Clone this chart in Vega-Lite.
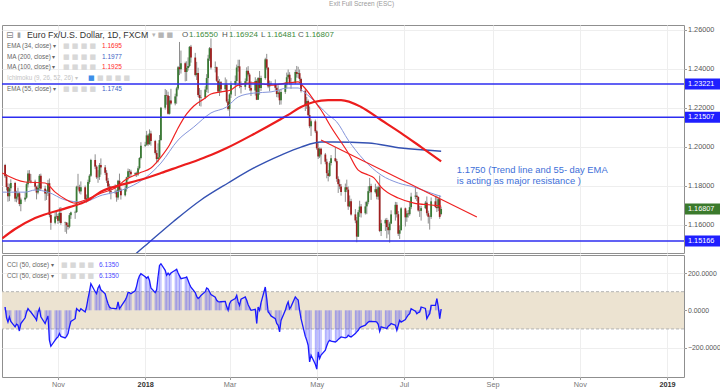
{
  "$schema": "https://vega.github.io/schema/vega-lite/v6.json",
  "background": "#ffffff",
  "padding": {"left": 0, "top": 1, "right": 0, "bottom": 2},
  "title": {"text": "Exit Full Screen (ESC)", "fontSize": 6.5, "fontWeight": "normal", "color": "#9a9a9a", "anchor": "middle", "frame": "bounds", "offset": 17},
  "config": {
    "font": "Liberation Sans",
    "view": {"stroke": "#8f8f8f", "strokeWidth": 1},
    "axis": {"labelFontSize": 7.3, "labelColor": "#555555", "gridColor": "#eeeeee", "gridWidth": 1, "domain": false, "tickColor": "#9a9a9a", "tickSize": 2.5, "labelPadding": 1}
  },
  "datasets": {
    "bars": [
      {"d":"2017-09-25","o":1.1906,"h":1.1912,"l":1.1840,"c":1.1848,"cci":18},
      {"d":"2017-09-26","o":1.1848,"h":1.1860,"l":1.1776,"c":1.1793,"cci":-40},
      {"d":"2017-09-27","o":1.1793,"h":1.1812,"l":1.1718,"c":1.1746,"cci":-63},
      {"d":"2017-09-28","o":1.1746,"h":1.1810,"l":1.1721,"c":1.1787,"cci":-36},
      {"d":"2017-09-29","o":1.1787,"h":1.1833,"l":1.1773,"c":1.1814,"cci":-60},
      {"d":"2017-10-02","o":1.1814,"h":1.1820,"l":1.1718,"c":1.1734,"cci":-89},
      {"d":"2017-10-03","o":1.1734,"h":1.1774,"l":1.1715,"c":1.1744,"cci":-75},
      {"d":"2017-10-04","o":1.1744,"h":1.1790,"l":1.1725,"c":1.1761,"cci":-80},
      {"d":"2017-10-05","o":1.1761,"h":1.1768,"l":1.1695,"c":1.1706,"cci":-111},
      {"d":"2017-10-06","o":1.1706,"h":1.1739,"l":1.1669,"c":1.1729,"cci":-71},
      {"d":"2017-10-09","o":1.1729,"h":1.1765,"l":1.1718,"c":1.1739,"cci":-40},
      {"d":"2017-10-10","o":1.1739,"h":1.1818,"l":1.1733,"c":1.1808,"cci":-10},
      {"d":"2017-10-11","o":1.1808,"h":1.1879,"l":1.1791,"c":1.1862,"cci":9},
      {"d":"2017-10-12","o":1.1862,"h":1.1880,"l":1.1816,"c":1.1826,"cci":-2},
      {"d":"2017-10-13","o":1.1826,"h":1.1860,"l":1.1812,"c":1.1821,"cci":-9},
      {"d":"2017-10-16","o":1.1821,"h":1.1831,"l":1.1777,"c":1.1795,"cci":-40},
      {"d":"2017-10-17","o":1.1795,"h":1.1800,"l":1.1730,"c":1.1765,"cci":-54},
      {"d":"2017-10-18","o":1.1765,"h":1.1805,"l":1.1756,"c":1.1788,"cci":-10},
      {"d":"2017-10-19","o":1.1788,"h":1.1860,"l":1.1777,"c":1.1851,"cci":9},
      {"d":"2017-10-20","o":1.1851,"h":1.1862,"l":1.1775,"c":1.1785,"cci":-35},
      {"d":"2017-10-23","o":1.1785,"h":1.1800,"l":1.1723,"c":1.1760,"cci":-71},
      {"d":"2017-10-24","o":1.1760,"h":1.1780,"l":1.1727,"c":1.1762,"cci":-50},
      {"d":"2017-10-25","o":1.1762,"h":1.1830,"l":1.1747,"c":1.1813,"cci":-30},
      {"d":"2017-10-26","o":1.1813,"h":1.1837,"l":1.1638,"c":1.1650,"cci":-160},
      {"d":"2017-10-27","o":1.1650,"h":1.1660,"l":1.1574,"c":1.1610,"cci":-193},
      {"d":"2017-10-30","o":1.1610,"h":1.1668,"l":1.1602,"c":1.1642,"cci":-160},
      {"d":"2017-10-31","o":1.1642,"h":1.1670,"l":1.1630,"c":1.1645,"cci":-150},
      {"d":"2017-11-01","o":1.1645,"h":1.1655,"l":1.1604,"c":1.1620,"cci":-143},
      {"d":"2017-11-02","o":1.1620,"h":1.1688,"l":1.1610,"c":1.1660,"cci":-125},
      {"d":"2017-11-03","o":1.1660,"h":1.1691,"l":1.1600,"c":1.1609,"cci":-140},
      {"d":"2017-11-06","o":1.1609,"h":1.1616,"l":1.1563,"c":1.1611,"cci":-148},
      {"d":"2017-11-07","o":1.1611,"h":1.1614,"l":1.1554,"c":1.1597,"cci":-140},
      {"d":"2017-11-08","o":1.1597,"h":1.1610,"l":1.1575,"c":1.1590,"cci":-125},
      {"d":"2017-11-09","o":1.1590,"h":1.1660,"l":1.1582,"c":1.1649,"cci":-89},
      {"d":"2017-11-10","o":1.1649,"h":1.1667,"l":1.1630,"c":1.1663,"cci":-60},
      {"d":"2017-11-13","o":1.1663,"h":1.1672,"l":1.1630,"c":1.1665,"cci":-45},
      {"d":"2017-11-14","o":1.1665,"h":1.1800,"l":1.1660,"c":1.1795,"cci":9},
      {"d":"2017-11-15","o":1.1795,"h":1.1861,"l":1.1780,"c":1.1793,"cci":2},
      {"d":"2017-11-16","o":1.1793,"h":1.1805,"l":1.1760,"c":1.1771,"cci":-5},
      {"d":"2017-11-17","o":1.1771,"h":1.1822,"l":1.1755,"c":1.1792,"cci":9},
      {"d":"2017-11-20","o":1.1792,"h":1.1801,"l":1.1722,"c":1.1732,"cci":-9},
      {"d":"2017-11-21","o":1.1732,"h":1.1755,"l":1.1713,"c":1.1736,"cci":20},
      {"d":"2017-11-22","o":1.1736,"h":1.1831,"l":1.1728,"c":1.1819,"cci":63},
      {"d":"2017-11-23","o":1.1819,"h":1.1859,"l":1.1810,"c":1.1851,"cci":100},
      {"d":"2017-11-24","o":1.1851,"h":1.1938,"l":1.1845,"c":1.1932,"cci":143},
      {"d":"2017-11-27","o":1.1932,"h":1.1961,"l":1.1885,"c":1.1898,"cci":100},
      {"d":"2017-11-28","o":1.1898,"h":1.1905,"l":1.1835,"c":1.1843,"cci":89},
      {"d":"2017-11-29","o":1.1843,"h":1.1880,"l":1.1815,"c":1.1845,"cci":120},
      {"d":"2017-11-30","o":1.1845,"h":1.1916,"l":1.1830,"c":1.1906,"cci":134},
      {"d":"2017-12-01","o":1.1906,"h":1.1940,"l":1.1857,"c":1.1894,"cci":110},
      {"d":"2017-12-04","o":1.1894,"h":1.1906,"l":1.1855,"c":1.1866,"cci":89},
      {"d":"2017-12-05","o":1.1866,"h":1.1880,"l":1.1814,"c":1.1826,"cci":60},
      {"d":"2017-12-06","o":1.1826,"h":1.1840,"l":1.1785,"c":1.1796,"cci":35},
      {"d":"2017-12-07","o":1.1796,"h":1.1810,"l":1.1757,"c":1.1772,"cci":18},
      {"d":"2017-12-08","o":1.1772,"h":1.1799,"l":1.1730,"c":1.1767,"cci":12},
      {"d":"2017-12-11","o":1.1767,"h":1.1807,"l":1.1757,"c":1.1769,"cci":9},
      {"d":"2017-12-12","o":1.1769,"h":1.1780,"l":1.1718,"c":1.1740,"cci":10},
      {"d":"2017-12-13","o":1.1740,"h":1.1830,"l":1.1728,"c":1.1825,"cci":45},
      {"d":"2017-12-14","o":1.1825,"h":1.1862,"l":1.1770,"c":1.1780,"cci":10},
      {"d":"2017-12-15","o":1.1780,"h":1.1790,"l":1.1729,"c":1.1751,"cci":20},
      {"d":"2017-12-18","o":1.1751,"h":1.1801,"l":1.1745,"c":1.1784,"cci":55},
      {"d":"2017-12-19","o":1.1784,"h":1.1846,"l":1.1770,"c":1.1843,"cci":70},
      {"d":"2017-12-20","o":1.1843,"h":1.1888,"l":1.1828,"c":1.1874,"cci":95},
      {"d":"2017-12-21","o":1.1874,"h":1.1885,"l":1.1840,"c":1.1871,"cci":95},
      {"d":"2017-12-22","o":1.1871,"h":1.1882,"l":1.1845,"c":1.1859,"cci":89},
      {"d":"2017-12-25","o":1.1859,"h":1.1869,"l":1.1848,"c":1.1864,"cci":105},
      {"d":"2017-12-26","o":1.1864,"h":1.1872,"l":1.1845,"c":1.1858,"cci":130},
      {"d":"2017-12-27","o":1.1858,"h":1.1900,"l":1.1850,"c":1.1890,"cci":165},
      {"d":"2017-12-28","o":1.1890,"h":1.1946,"l":1.1883,"c":1.1942,"cci":185},
      {"d":"2017-12-29","o":1.1942,"h":1.2023,"l":1.1935,"c":1.2005,"cci":197},
      {"d":"2018-01-01","o":1.2005,"h":1.2025,"l":1.1998,"c":1.2010,"cci":180},
      {"d":"2018-01-02","o":1.2010,"h":1.2081,"l":1.2005,"c":1.2058,"cci":172},
      {"d":"2018-01-03","o":1.2058,"h":1.2065,"l":1.2003,"c":1.2013,"cci":180},
      {"d":"2018-01-04","o":1.2013,"h":1.2089,"l":1.2010,"c":1.2068,"cci":160},
      {"d":"2018-01-05","o":1.2068,"h":1.2082,"l":1.2005,"c":1.2029,"cci":120},
      {"d":"2018-01-08","o":1.2029,"h":1.2035,"l":1.1960,"c":1.1968,"cci":95},
      {"d":"2018-01-09","o":1.1968,"h":1.1982,"l":1.1915,"c":1.1937,"cci":110},
      {"d":"2018-01-10","o":1.1937,"h":1.2017,"l":1.1920,"c":1.1946,"cci":180},
      {"d":"2018-01-11","o":1.1946,"h":1.2060,"l":1.1940,"c":1.2034,"cci":241},
      {"d":"2018-01-12","o":1.2034,"h":1.2203,"l":1.2030,"c":1.2200,"cci":250},
      {"d":"2018-01-15","o":1.2200,"h":1.2296,"l":1.2190,"c":1.2265,"cci":215},
      {"d":"2018-01-16","o":1.2265,"h":1.2290,"l":1.2215,"c":1.2262,"cci":188},
      {"d":"2018-01-17","o":1.2262,"h":1.2282,"l":1.2165,"c":1.2169,"cci":200},
      {"d":"2018-01-18","o":1.2169,"h":1.2260,"l":1.2165,"c":1.2237,"cci":190},
      {"d":"2018-01-19","o":1.2237,"h":1.2297,"l":1.2215,"c":1.2222,"cci":200},
      {"d":"2018-01-22","o":1.2222,"h":1.2272,"l":1.2212,"c":1.2258,"cci":215},
      {"d":"2018-01-23","o":1.2258,"h":1.2307,"l":1.2220,"c":1.2299,"cci":220},
      {"d":"2018-01-24","o":1.2299,"h":1.2414,"l":1.2290,"c":1.2408,"cci":200},
      {"d":"2018-01-25","o":1.2408,"h":1.2537,"l":1.2367,"c":1.2397,"cci":185},
      {"d":"2018-01-26","o":1.2397,"h":1.2493,"l":1.2375,"c":1.2428,"cci":170},
      {"d":"2018-01-29","o":1.2428,"h":1.2436,"l":1.2335,"c":1.2383,"cci":175},
      {"d":"2018-01-30","o":1.2383,"h":1.2438,"l":1.2337,"c":1.2404,"cci":179},
      {"d":"2018-01-31","o":1.2404,"h":1.2458,"l":1.2390,"c":1.2414,"cci":160},
      {"d":"2018-02-01","o":1.2414,"h":1.2516,"l":1.2407,"c":1.2512,"cci":140},
      {"d":"2018-02-02","o":1.2512,"h":1.2522,"l":1.2431,"c":1.2457,"cci":125},
      {"d":"2018-02-05","o":1.2457,"h":1.2481,"l":1.2360,"c":1.2368,"cci":95},
      {"d":"2018-02-06","o":1.2368,"h":1.2435,"l":1.2342,"c":1.2378,"cci":75},
      {"d":"2018-02-07","o":1.2378,"h":1.2405,"l":1.2255,"c":1.2265,"cci":63},
      {"d":"2018-02-08","o":1.2265,"h":1.2301,"l":1.2209,"c":1.2250,"cci":70},
      {"d":"2018-02-09","o":1.2250,"h":1.2291,"l":1.2206,"c":1.2252,"cci":80},
      {"d":"2018-02-12","o":1.2252,"h":1.2310,"l":1.2244,"c":1.2293,"cci":100},
      {"d":"2018-02-13","o":1.2293,"h":1.2372,"l":1.2280,"c":1.2352,"cci":120},
      {"d":"2018-02-14","o":1.2352,"h":1.2471,"l":1.2275,"c":1.2452,"cci":115},
      {"d":"2018-02-15","o":1.2452,"h":1.2511,"l":1.2440,"c":1.2505,"cci":100},
      {"d":"2018-02-16","o":1.2505,"h":1.2555,"l":1.2396,"c":1.2406,"cci":85},
      {"d":"2018-02-19","o":1.2406,"h":1.2437,"l":1.2381,"c":1.2408,"cci":70},
      {"d":"2018-02-20","o":1.2408,"h":1.2411,"l":1.2332,"c":1.2338,"cci":54},
      {"d":"2018-02-21","o":1.2338,"h":1.2361,"l":1.2276,"c":1.2283,"cci":47},
      {"d":"2018-02-22","o":1.2283,"h":1.2347,"l":1.2260,"c":1.2330,"cci":45},
      {"d":"2018-02-23","o":1.2330,"h":1.2337,"l":1.2279,"c":1.2295,"cci":46},
      {"d":"2018-02-26","o":1.2295,"h":1.2355,"l":1.2283,"c":1.2318,"cci":48},
      {"d":"2018-02-27","o":1.2318,"h":1.2345,"l":1.2225,"c":1.2232,"cci":20},
      {"d":"2018-02-28","o":1.2232,"h":1.2245,"l":1.2185,"c":1.2193,"cci":0},
      {"d":"2018-03-01","o":1.2193,"h":1.2274,"l":1.2155,"c":1.2268,"cci":36},
      {"d":"2018-03-02","o":1.2268,"h":1.2336,"l":1.2250,"c":1.2318,"cci":50},
      {"d":"2018-03-05","o":1.2318,"h":1.2365,"l":1.2260,"c":1.2337,"cci":63},
      {"d":"2018-03-06","o":1.2337,"h":1.2421,"l":1.2325,"c":1.2406,"cci":80},
      {"d":"2018-03-07","o":1.2406,"h":1.2446,"l":1.2385,"c":1.2412,"cci":45},
      {"d":"2018-03-08","o":1.2412,"h":1.2446,"l":1.2300,"c":1.2311,"cci":27},
      {"d":"2018-03-09","o":1.2311,"h":1.2335,"l":1.2273,"c":1.2307,"cci":60},
      {"d":"2018-03-12","o":1.2307,"h":1.2350,"l":1.2292,"c":1.2336,"cci":72},
      {"d":"2018-03-13","o":1.2336,"h":1.2407,"l":1.2318,"c":1.2389,"cci":54},
      {"d":"2018-03-14","o":1.2389,"h":1.2413,"l":1.2360,"c":1.2370,"cci":30},
      {"d":"2018-03-15","o":1.2370,"h":1.2379,"l":1.2287,"c":1.2301,"cci":15},
      {"d":"2018-03-16","o":1.2301,"h":1.2336,"l":1.2260,"c":1.2288,"cci":0},
      {"d":"2018-03-19","o":1.2288,"h":1.2356,"l":1.2262,"c":1.2337,"cci":5},
      {"d":"2018-03-20","o":1.2337,"h":1.2345,"l":1.2239,"c":1.2241,"cci":-71},
      {"d":"2018-03-21","o":1.2241,"h":1.2357,"l":1.2240,"c":1.2352,"cci":18},
      {"d":"2018-03-22","o":1.2352,"h":1.2388,"l":1.2266,"c":1.2301,"cci":0},
      {"d":"2018-03-23","o":1.2301,"h":1.2364,"l":1.2286,"c":1.2352,"cci":40},
      {"d":"2018-03-26","o":1.2352,"h":1.2456,"l":1.2344,"c":1.2448,"cci":125},
      {"d":"2018-03-27","o":1.2448,"h":1.2476,"l":1.2395,"c":1.2405,"cci":63},
      {"d":"2018-03-28","o":1.2405,"h":1.2409,"l":1.2300,"c":1.2309,"cci":-9},
      {"d":"2018-03-29","o":1.2309,"h":1.2339,"l":1.2284,"c":1.2323,"cci":-18},
      {"d":"2018-03-30","o":1.2323,"h":1.2336,"l":1.2313,"c":1.2322,"cci":-30},
      {"d":"2018-04-02","o":1.2322,"h":1.2345,"l":1.2290,"c":1.2302,"cci":-45},
      {"d":"2018-04-03","o":1.2302,"h":1.2316,"l":1.2254,"c":1.2270,"cci":-71},
      {"d":"2018-04-04","o":1.2270,"h":1.2315,"l":1.2252,"c":1.2278,"cci":-80},
      {"d":"2018-04-05","o":1.2278,"h":1.2290,"l":1.2215,"c":1.2238,"cci":-116},
      {"d":"2018-04-06","o":1.2238,"h":1.2295,"l":1.2216,"c":1.2281,"cci":-54},
      {"d":"2018-04-09","o":1.2281,"h":1.2331,"l":1.2271,"c":1.2319,"cci":0},
      {"d":"2018-04-10","o":1.2319,"h":1.2380,"l":1.2300,"c":1.2356,"cci":27},
      {"d":"2018-04-11","o":1.2356,"h":1.2396,"l":1.2348,"c":1.2369,"cci":45},
      {"d":"2018-04-12","o":1.2369,"h":1.2382,"l":1.2318,"c":1.2327,"cci":9},
      {"d":"2018-04-13","o":1.2327,"h":1.2353,"l":1.2297,"c":1.2328,"cci":20},
      {"d":"2018-04-16","o":1.2328,"h":1.2395,"l":1.2321,"c":1.2383,"cci":72},
      {"d":"2018-04-17","o":1.2383,"h":1.2414,"l":1.2354,"c":1.2373,"cci":63},
      {"d":"2018-04-18","o":1.2373,"h":1.2410,"l":1.2352,"c":1.2377,"cci":55},
      {"d":"2018-04-19","o":1.2377,"h":1.2396,"l":1.2333,"c":1.2347,"cci":0},
      {"d":"2018-04-20","o":1.2347,"h":1.2354,"l":1.2278,"c":1.2287,"cci":-45},
      {"d":"2018-04-23","o":1.2287,"h":1.2296,"l":1.2183,"c":1.2210,"cci":-140},
      {"d":"2018-04-24","o":1.2210,"h":1.2255,"l":1.2194,"c":1.2234,"cci":-161},
      {"d":"2018-04-25","o":1.2234,"h":1.2242,"l":1.2155,"c":1.2162,"cci":-188},
      {"d":"2018-04-26","o":1.2162,"h":1.2206,"l":1.2095,"c":1.2105,"cci":-277},
      {"d":"2018-04-27","o":1.2105,"h":1.2140,"l":1.2055,"c":1.2130,"cci":-241},
      {"d":"2018-04-30","o":1.2130,"h":1.2139,"l":1.2070,"c":1.2079,"cci":-290},
      {"d":"2018-05-01","o":1.2079,"h":1.2085,"l":1.1984,"c":1.1992,"cci":-316},
      {"d":"2018-05-02","o":1.1992,"h":1.2018,"l":1.1937,"c":1.1950,"cci":-223},
      {"d":"2018-05-03","o":1.1950,"h":1.1996,"l":1.1942,"c":1.1989,"cci":-259},
      {"d":"2018-05-04","o":1.1989,"h":1.1995,"l":1.1910,"c":1.1960,"cci":-240},
      {"d":"2018-05-07","o":1.1960,"h":1.1968,"l":1.1910,"c":1.1923,"cci":-214},
      {"d":"2018-05-08","o":1.1923,"h":1.1938,"l":1.1838,"c":1.1864,"cci":-190},
      {"d":"2018-05-09","o":1.1864,"h":1.1880,"l":1.1822,"c":1.1850,"cci":-170},
      {"d":"2018-05-10","o":1.1850,"h":1.1925,"l":1.1845,"c":1.1916,"cci":-161},
      {"d":"2018-05-11","o":1.1916,"h":1.1957,"l":1.1904,"c":1.1941,"cci":-165},
      {"d":"2018-05-14","o":1.1941,"h":1.1997,"l":1.1920,"c":1.1926,"cci":-170},
      {"d":"2018-05-15","o":1.1926,"h":1.1937,"l":1.1820,"c":1.1835,"cci":-165},
      {"d":"2018-05-16","o":1.1835,"h":1.1848,"l":1.1763,"c":1.1808,"cci":-156},
      {"d":"2018-05-17","o":1.1808,"h":1.1832,"l":1.1782,"c":1.1796,"cci":-150},
      {"d":"2018-05-18","o":1.1796,"h":1.1809,"l":1.1749,"c":1.1768,"cci":-143},
      {"d":"2018-05-21","o":1.1768,"h":1.1811,"l":1.1717,"c":1.1792,"cci":-148},
      {"d":"2018-05-22","o":1.1792,"h":1.1831,"l":1.1767,"c":1.1780,"cci":-145},
      {"d":"2018-05-23","o":1.1780,"h":1.1796,"l":1.1676,"c":1.1694,"cci":-134},
      {"d":"2018-05-24","o":1.1694,"h":1.1750,"l":1.1690,"c":1.1720,"cci":-140},
      {"d":"2018-05-25","o":1.1720,"h":1.1733,"l":1.1647,"c":1.1653,"cci":-143},
      {"d":"2018-05-28","o":1.1653,"h":1.1680,"l":1.1608,"c":1.1622,"cci":-125},
      {"d":"2018-05-29","o":1.1622,"h":1.1640,"l":1.1510,"c":1.1539,"cci":-116},
      {"d":"2018-05-30","o":1.1539,"h":1.1675,"l":1.1537,"c":1.1664,"cci":-107},
      {"d":"2018-05-31","o":1.1664,"h":1.1723,"l":1.1640,"c":1.1693,"cci":-95},
      {"d":"2018-06-01","o":1.1693,"h":1.1706,"l":1.1637,"c":1.1659,"cci":-89},
      {"d":"2018-06-04","o":1.1659,"h":1.1718,"l":1.1652,"c":1.1694,"cci":-80},
      {"d":"2018-06-05","o":1.1694,"h":1.1723,"l":1.1654,"c":1.1716,"cci":-71},
      {"d":"2018-06-06","o":1.1716,"h":1.1797,"l":1.1705,"c":1.1772,"cci":-63},
      {"d":"2018-06-07","o":1.1772,"h":1.1840,"l":1.1762,"c":1.1798,"cci":-60},
      {"d":"2018-06-08","o":1.1798,"h":1.1810,"l":1.1727,"c":1.1767,"cci":-59},
      {"d":"2018-06-11","o":1.1767,"h":1.1810,"l":1.1760,"c":1.1782,"cci":-61},
      {"d":"2018-06-12","o":1.1782,"h":1.1796,"l":1.1730,"c":1.1744,"cci":-63},
      {"d":"2018-06-13","o":1.1744,"h":1.1801,"l":1.1728,"c":1.1792,"cci":-75},
      {"d":"2018-06-14","o":1.1792,"h":1.1852,"l":1.1562,"c":1.1568,"cci":-113},
      {"d":"2018-06-15","o":1.1568,"h":1.1625,"l":1.1542,"c":1.1607,"cci":-89},
      {"d":"2018-06-18","o":1.1607,"h":1.1632,"l":1.1568,"c":1.1624,"cci":-95},
      {"d":"2018-06-19","o":1.1624,"h":1.1635,"l":1.1530,"c":1.1588,"cci":-98},
      {"d":"2018-06-20","o":1.1588,"h":1.1625,"l":1.1550,"c":1.1572,"cci":-85},
      {"d":"2018-06-21","o":1.1572,"h":1.1615,"l":1.1508,"c":1.1606,"cci":-80},
      {"d":"2018-06-22","o":1.1606,"h":1.1674,"l":1.1603,"c":1.1653,"cci":-71},
      {"d":"2018-06-25","o":1.1653,"h":1.1717,"l":1.1621,"c":1.1702,"cci":-80},
      {"d":"2018-06-26","o":1.1702,"h":1.1716,"l":1.1637,"c":1.1654,"cci":-107},
      {"d":"2018-06-27","o":1.1654,"h":1.1670,"l":1.1542,"c":1.1554,"cci":-80},
      {"d":"2018-06-28","o":1.1554,"h":1.1597,"l":1.1527,"c":1.1572,"cci":-54},
      {"d":"2018-06-29","o":1.1572,"h":1.1690,"l":1.1570,"c":1.1684,"cci":-63},
      {"d":"2018-07-02","o":1.1684,"h":1.1688,"l":1.1591,"c":1.1638,"cci":-50},
      {"d":"2018-07-03","o":1.1638,"h":1.1672,"l":1.1615,"c":1.1658,"cci":-36},
      {"d":"2018-07-04","o":1.1658,"h":1.1675,"l":1.1637,"c":1.1654,"cci":-25},
      {"d":"2018-07-05","o":1.1654,"h":1.1720,"l":1.1646,"c":1.1690,"cci":-18},
      {"d":"2018-07-06","o":1.1690,"h":1.1764,"l":1.1680,"c":1.1744,"cci":9},
      {"d":"2018-07-09","o":1.1744,"h":1.1791,"l":1.1731,"c":1.1749,"cci":-5},
      {"d":"2018-07-10","o":1.1749,"h":1.1768,"l":1.1721,"c":1.1742,"cci":-18},
      {"d":"2018-07-11","o":1.1742,"h":1.1746,"l":1.1667,"c":1.1673,"cci":-12},
      {"d":"2018-07-12","o":1.1673,"h":1.1697,"l":1.1640,"c":1.1671,"cci":-9},
      {"d":"2018-07-13","o":1.1671,"h":1.1697,"l":1.1621,"c":1.1685,"cci":18},
      {"d":"2018-07-16","o":1.1685,"h":1.1722,"l":1.1680,"c":1.1713,"cci":10},
      {"d":"2018-07-17","o":1.1713,"h":1.1745,"l":1.1647,"c":1.1659,"cci":-45},
      {"d":"2018-07-18","o":1.1659,"h":1.1672,"l":1.1606,"c":1.1641,"cci":-30},
      {"d":"2018-07-19","o":1.1641,"h":1.1648,"l":1.1575,"c":1.1640,"cci":-18},
      {"d":"2018-07-20","o":1.1640,"h":1.1740,"l":1.1630,"c":1.1720,"cci":27},
      {"d":"2018-07-23","o":1.1720,"h":1.1749,"l":1.1685,"c":1.1691,"cci":27},
      {"d":"2018-07-24","o":1.1691,"h":1.1750,"l":1.1665,"c":1.1685,"cci":63},
      {"d":"2018-07-25","o":1.1685,"h":1.1740,"l":1.1670,"c":1.1731,"cci":20},
      {"d":"2018-07-26","o":1.1731,"h":1.1750,"l":1.1630,"c":1.1640,"cci":-45},
      {"d":"2018-07-27","o":1.16550,"h":1.16924,"l":1.16481,"c":1.16807,"cci":6.135}
    ],
    "ma": [
      {"s":"e34","d":"2017-09-23","p":1.1865},{"s":"e34","d":"2017-10-09","p":1.1819},{"s":"e34","d":"2017-10-23","p":1.1814},{"s":"e34","d":"2017-10-30","p":1.1767},{"s":"e34","d":"2017-11-06","p":1.1732},{"s":"e34","d":"2017-11-13","p":1.1711},{"s":"e34","d":"2017-11-20","p":1.1727},{"s":"e34","d":"2017-12-01","p":1.1762},{"s":"e34","d":"2017-12-11","p":1.1788},{"s":"e34","d":"2017-12-18","p":1.1829},{"s":"e34","d":"2017-12-28","p":1.1865},{"s":"e34","d":"2018-01-05","p":1.1891},{"s":"e34","d":"2018-01-12","p":1.1947},{"s":"e34","d":"2018-01-18","p":1.2009},{"s":"e34","d":"2018-01-24","p":1.2096},{"s":"e34","d":"2018-01-30","p":1.2168},{"s":"e34","d":"2018-02-04","p":1.2209},{"s":"e34","d":"2018-02-11","p":1.2245},{"s":"e34","d":"2018-02-16","p":1.2270},{"s":"e34","d":"2018-02-23","p":1.2281},{"s":"e34","d":"2018-03-02","p":1.2291},{"s":"e34","d":"2018-03-07","p":1.2316},{"s":"e34","d":"2018-03-18","p":1.2327},{"s":"e34","d":"2018-03-30","p":1.2316},{"s":"e34","d":"2018-04-11","p":1.2327},{"s":"e34","d":"2018-04-18","p":1.2332},{"s":"e34","d":"2018-04-22","p":1.2306},{"s":"e34","d":"2018-04-29","p":1.2239},{"s":"e34","d":"2018-05-04","p":1.2188},{"s":"e34","d":"2018-05-11","p":1.2101},{"s":"e34","d":"2018-05-23","p":1.1968},{"s":"e34","d":"2018-05-30","p":1.1880},{"s":"e34","d":"2018-06-06","p":1.1855},{"s":"e34","d":"2018-06-10","p":1.1840},{"s":"e34","d":"2018-06-15","p":1.1793},{"s":"e34","d":"2018-06-27","p":1.1737},{"s":"e34","d":"2018-07-08","p":1.1711},{"s":"e34","d":"2018-07-20","p":1.1701},{"s":"e34","d":"2018-07-27","p":1.1695},
      {"s":"e55","d":"2017-09-23","p":1.1767},{"s":"e55","d":"2017-10-09","p":1.1767},{"s":"e55","d":"2017-10-16","p":1.1778},{"s":"e55","d":"2017-10-25","p":1.1767},{"s":"e55","d":"2017-11-06","p":1.1727},{"s":"e55","d":"2017-11-18","p":1.1716},{"s":"e55","d":"2017-12-02","p":1.1752},{"s":"e55","d":"2017-12-11","p":1.1767},{"s":"e55","d":"2017-12-21","p":1.1793},{"s":"e55","d":"2018-01-01","p":1.1840},{"s":"e55","d":"2018-01-12","p":1.1916},{"s":"e55","d":"2018-01-24","p":1.2034},{"s":"e55","d":"2018-02-04","p":1.2101},{"s":"e55","d":"2018-02-16","p":1.2173},{"s":"e55","d":"2018-02-27","p":1.2204},{"s":"e55","d":"2018-03-07","p":1.2255},{"s":"e55","d":"2018-03-18","p":1.2275},{"s":"e55","d":"2018-03-30","p":1.2281},{"s":"e55","d":"2018-04-11","p":1.2301},{"s":"e55","d":"2018-04-18","p":1.2301},{"s":"e55","d":"2018-04-22","p":1.2281},{"s":"e55","d":"2018-05-02","p":1.2214},{"s":"e55","d":"2018-05-09","p":1.2163},{"s":"e55","d":"2018-05-15","p":1.2127},{"s":"e55","d":"2018-05-23","p":1.2034},{"s":"e55","d":"2018-06-03","p":1.1932},{"s":"e55","d":"2018-06-15","p":1.1855},{"s":"e55","d":"2018-06-27","p":1.1814},{"s":"e55","d":"2018-07-08","p":1.1793},{"s":"e55","d":"2018-07-20","p":1.1762},{"s":"e55","d":"2018-07-27","p":1.1745},
      {"s":"m100","d":"2017-09-23","p":1.1530},{"s":"m100","d":"2017-10-02","p":1.1578},{"s":"m100","d":"2017-10-16","p":1.1634},{"s":"m100","d":"2017-11-09","p":1.1690},{"s":"m100","d":"2017-11-21","p":1.1721},{"s":"m100","d":"2017-12-02","p":1.1773},{"s":"m100","d":"2017-12-12","p":1.1798},{"s":"m100","d":"2017-12-28","p":1.1829},{"s":"m100","d":"2018-01-12","p":1.1865},{"s":"m100","d":"2018-01-24","p":1.1896},{"s":"m100","d":"2018-02-07","p":1.1932},{"s":"m100","d":"2018-02-16","p":1.1957},{"s":"m100","d":"2018-02-27","p":1.1993},{"s":"m100","d":"2018-03-18","p":1.2065},{"s":"m100","d":"2018-04-06","p":1.2142},{"s":"m100","d":"2018-04-11","p":1.2163},{"s":"m100","d":"2018-04-20","p":1.2204},{"s":"m100","d":"2018-04-29","p":1.2229},{"s":"m100","d":"2018-05-09","p":1.2239},{"s":"m100","d":"2018-05-18","p":1.2239},{"s":"m100","d":"2018-06-01","p":1.2204},{"s":"m100","d":"2018-06-15","p":1.2137},{"s":"m100","d":"2018-06-29","p":1.2070},{"s":"m100","d":"2018-07-13","p":1.1998},{"s":"m100","d":"2018-07-27","p":1.1925},
      {"s":"m200","d":"2017-12-15","p":1.1380},{"s":"m200","d":"2017-12-25","p":1.1448},{"s":"m200","d":"2018-01-03","p":1.1505},{"s":"m200","d":"2018-01-21","p":1.1618},{"s":"m200","d":"2018-02-09","p":1.1727},{"s":"m200","d":"2018-02-28","p":1.1814},{"s":"m200","d":"2018-03-18","p":1.1891},{"s":"m200","d":"2018-04-06","p":1.1957},{"s":"m200","d":"2018-04-20","p":1.1998},{"s":"m200","d":"2018-05-04","p":1.2024},{"s":"m200","d":"2018-05-13","p":1.2024},{"s":"m200","d":"2018-06-06","p":1.2019},{"s":"m200","d":"2018-06-29","p":1.1993},{"s":"m200","d":"2018-07-27","p":1.1977}
    ],
    "lev": [
      {"v":1.23221,"k":"lvl"},{"v":1.21507,"k":"lvl"},{"v":1.15166,"k":"lvl"},{"v":1.16807,"k":"last"}
    ],
    "leg": [
      {"r":1,"n":"EMA (34, close) ▾","v":"1.1695","s":"e34"},
      {"r":2,"n":"MA (200, close) ▾","v":"1.1977","s":"m200"},
      {"r":3,"n":"MA (100, close) ▾","v":"1.1925","s":"m100"},
      {"r":4,"n":"Ichimoku (9, 26, 52, 26) ▾","v":"","s":"ichi"},
      {"r":5,"n":"EMA (55, close) ▾","v":"1.1745","s":"e55"}
    ],
    "legc": [
      {"r":0,"n":"CCI (50, close) ▾","v":"6.1350"},
      {"r":1,"n":"CCI (50, close) ▾","v":"6.1350"}
    ]
  },
  "spacing": 0,
  "vconcat": [
    {
      "width": 682,
      "height": 228,
      "layer": [
        {
          "layer": [
            {
              "data": {"name": "bars"},
              "mark": {"type": "rule", "color": "#8e8e8e", "strokeWidth": 1},
              "encoding": {
                "x": {"field": "d", "type": "temporal",
                  "scale": {"type": "utc", "domain": [{"year":2017,"month":9,"date":22,"hours":20,"utc":true},{"year":2019,"month":1,"date":12,"hours":21,"utc":true}]},
                  "axis": {"orient": "bottom", "title": null, "labels": false, "ticks": false, "domain": false, "grid": true, "minExtent": 0, "maxExtent": 0,
                    "values": [{"year":2017,"month":11,"date":1,"utc":true},{"year":2018,"month":1,"date":1,"utc":true},{"year":2018,"month":3,"date":1,"utc":true},{"year":2018,"month":5,"date":1,"utc":true},{"year":2018,"month":7,"date":1,"utc":true},{"year":2018,"month":9,"date":1,"utc":true},{"year":2018,"month":11,"date":1,"utc":true},{"year":2019,"month":1,"date":1,"utc":true}]}},
                "y": {"field": "l", "type": "quantitative",
                  "scale": {"domain": [1.1455, 1.2624], "nice": false, "zero": false},
                  "axis": {"orient": "right", "title": null, "format": ".5f", "grid": true, "values": [1.16,1.17,1.18,1.19,1.2,1.21,1.22,1.23,1.24,1.25,1.26]}},
                "y2": {"field": "h"}
              }
            },
            {
              "data": {"name": "bars"},
              "mark": {"type": "rule", "strokeWidth": 1.8},
              "encoding": {
                "x": {"field": "d", "type": "temporal"},
                "y": {"field": "o", "type": "quantitative"},
                "y2": {"field": "c"},
                "color": {"condition": {"test": "datum.c >= datum.o", "value": "#3a7a35"}, "value": "#9e1f1f"}
              }
            },
            {
              "data": {"name": "ma"},
              "transform": [{"filter": "datum.s == 'm200'"}],
              "mark": {"type": "line", "clip": true, "interpolate": "monotone", "color": "#3451b2", "strokeWidth": 1.4},
              "encoding": {"x": {"field": "d", "type": "temporal"}, "y": {"field": "p", "type": "quantitative"}}
            },
            {
              "data": {"name": "ma"},
              "transform": [{"filter": "datum.s == 'e55'"}],
              "mark": {"type": "line", "clip": true, "interpolate": "monotone", "color": "#8595db", "strokeWidth": 1},
              "encoding": {"x": {"field": "d", "type": "temporal"}, "y": {"field": "p", "type": "quantitative"}}
            },
            {
              "data": {"name": "ma"},
              "transform": [{"filter": "datum.s == 'm100'"}],
              "mark": {"type": "line", "clip": true, "interpolate": "monotone", "color": "#ec1d1d", "strokeWidth": 2.2},
              "encoding": {"x": {"field": "d", "type": "temporal"}, "y": {"field": "p", "type": "quantitative"}}
            },
            {
              "data": {"name": "ma"},
              "transform": [{"filter": "datum.s == 'e34'"}],
              "mark": {"type": "line", "clip": true, "interpolate": "monotone", "color": "#f02020", "strokeWidth": 1.2},
              "encoding": {"x": {"field": "d", "type": "temporal"}, "y": {"field": "p", "type": "quantitative"}}
            },
            {
              "data": {"values": [{"d": "2018-05-04", "p": 1.2034}, {"d": "2018-08-21", "p": 1.1640}]},
              "mark": {"type": "line", "color": "#ee2222", "strokeWidth": 1.2},
              "encoding": {"x": {"field": "d", "type": "temporal"}, "y": {"field": "p", "type": "quantitative"}}
            },
            {
              "data": {"name": "lev"},
              "transform": [{"filter": "datum.k == 'lvl'"}],
              "mark": {"type": "rule", "color": "#2c2cf0", "strokeWidth": 1.5},
              "encoding": {"y": {"field": "v", "type": "quantitative"}}
            },
            {
              "data": {"name": "lev"},
              "mark": {"type": "rect", "xOffset": 1, "x2Offset": 38, "yOffset": -5.5, "y2Offset": 5.5},
              "encoding": {
                "x": {"datum": {"year":2019,"month":1,"date":12,"hours":21,"utc":true}, "type": "temporal"},
                "x2": {"datum": {"year":2019,"month":1,"date":12,"hours":21,"utc":true}},
                "y": {"field": "v", "type": "quantitative"},
                "y2": {"field": "v"},
                "color": {"condition": {"test": "datum.k == 'last'", "value": "#3b7a2c"}, "value": "#1f1fff"}
              }
            },
            {
              "data": {"name": "lev"},
              "mark": {"type": "text", "align": "left", "baseline": "middle", "dx": 4, "color": "#ffffff", "fontSize": 7.3},
              "encoding": {
                "x": {"datum": {"year":2019,"month":1,"date":12,"hours":21,"utc":true}, "type": "temporal"},
                "y": {"field": "v", "type": "quantitative"},
                "text": {"field": "v", "type": "quantitative", "format": ".5f"}
              }
            },
            {
              "data": {"values": [{}]},
              "mark": {"type": "text", "align": "left", "baseline": "top", "color": "#3e6fd8", "fontSize": 9.4, "lineHeight": 10.5,
                "text": ["1.1750 (Trend line and 55- day EMA", "is acting as major resistance )"]},
              "encoding": {
                "x": {"datum": {"year":2018,"month":8,"date":7,"utc":true}, "type": "temporal"},
                "y": {"datum": 1.1901, "type": "quantitative"}
              }
            }
          ]
        },
        {
          "layer": [
            {
              "data": {"values": [{}]},
              "mark": {"type": "text", "align": "left", "baseline": "middle", "dx": 4, "fontSize": 9, "color": "#888888", "font": "DejaVu Sans", "text": "⊟"},
              "encoding": {
                "x": {"datum": {"year":2017,"month":9,"date":22,"hours":20,"utc":true}, "type": "temporal"},
                "y": {"datum": 0, "type": "ordinal", "scale": {"type": "point", "padding": 0, "domain": [0,1,2,3,4,5], "range": [10, 64]}, "axis": null}
              }
            },
            {
              "data": {"values": [{}]},
              "mark": {"type": "text", "align": "left", "baseline": "middle", "dx": 15, "fontSize": 7, "color": "#a0a0a0", "font": "DejaVu Sans", "text": "▮"},
              "encoding": {"x": {"datum": {"year":2017,"month":9,"date":22,"hours":20,"utc":true}, "type": "temporal"}, "y": {"datum": 0, "type": "ordinal", "axis": null}}
            },
            {
              "data": {"values": [{}]},
              "mark": {"type": "text", "align": "left", "baseline": "middle", "dx": 25, "fontSize": 8.8, "color": "#333333", "text": "Euro Fx/U.S. Dollar, 1D, FXCM"},
              "encoding": {"x": {"datum": {"year":2017,"month":9,"date":22,"hours":20,"utc":true}, "type": "temporal"}, "y": {"datum": 0, "type": "ordinal", "axis": null}}
            },
            {
              "data": {"values": [{}]},
              "mark": {"type": "text", "align": "left", "baseline": "middle", "dx": 150, "fontSize": 7, "color": "#b5b5b5", "font": "DejaVu Sans", "text": "▾  ■ ■"},
              "encoding": {"x": {"datum": {"year":2017,"month":9,"date":22,"hours":20,"utc":true}, "type": "temporal"}, "y": {"datum": 0, "type": "ordinal", "axis": null}}
            },
            {
              "data": {"values": [{}]},
              "mark": {"type": "text", "align": "left", "baseline": "middle", "dx": 180, "fontSize": 8, "color": "#555555", "text": "O"},
              "encoding": {"x": {"datum": {"year":2017,"month":9,"date":22,"hours":20,"utc":true}, "type": "temporal"}, "y": {"datum": 0, "type": "ordinal", "axis": null}}
            },
            {
              "data": {"values": [{}]},
              "mark": {"type": "text", "align": "left", "baseline": "middle", "dx": 187, "fontSize": 8, "color": "#3b8a3b", "text": "1.16550"},
              "encoding": {"x": {"datum": {"year":2017,"month":9,"date":22,"hours":20,"utc":true}, "type": "temporal"}, "y": {"datum": 0, "type": "ordinal", "axis": null}}
            },
            {
              "data": {"values": [{}]},
              "mark": {"type": "text", "align": "left", "baseline": "middle", "dx": 220, "fontSize": 8, "color": "#555555", "text": "H"},
              "encoding": {"x": {"datum": {"year":2017,"month":9,"date":22,"hours":20,"utc":true}, "type": "temporal"}, "y": {"datum": 0, "type": "ordinal", "axis": null}}
            },
            {
              "data": {"values": [{}]},
              "mark": {"type": "text", "align": "left", "baseline": "middle", "dx": 227, "fontSize": 8, "color": "#3b8a3b", "text": "1.16924"},
              "encoding": {"x": {"datum": {"year":2017,"month":9,"date":22,"hours":20,"utc":true}, "type": "temporal"}, "y": {"datum": 0, "type": "ordinal", "axis": null}}
            },
            {
              "data": {"values": [{}]},
              "mark": {"type": "text", "align": "left", "baseline": "middle", "dx": 259, "fontSize": 8, "color": "#555555", "text": "L"},
              "encoding": {"x": {"datum": {"year":2017,"month":9,"date":22,"hours":20,"utc":true}, "type": "temporal"}, "y": {"datum": 0, "type": "ordinal", "axis": null}}
            },
            {
              "data": {"values": [{}]},
              "mark": {"type": "text", "align": "left", "baseline": "middle", "dx": 265, "fontSize": 8, "color": "#3b8a3b", "text": "1.16481"},
              "encoding": {"x": {"datum": {"year":2017,"month":9,"date":22,"hours":20,"utc":true}, "type": "temporal"}, "y": {"datum": 0, "type": "ordinal", "axis": null}}
            },
            {
              "data": {"values": [{}]},
              "mark": {"type": "text", "align": "left", "baseline": "middle", "dx": 296, "fontSize": 8, "color": "#555555", "text": "C"},
              "encoding": {"x": {"datum": {"year":2017,"month":9,"date":22,"hours":20,"utc":true}, "type": "temporal"}, "y": {"datum": 0, "type": "ordinal", "axis": null}}
            },
            {
              "data": {"values": [{}]},
              "mark": {"type": "text", "align": "left", "baseline": "middle", "dx": 303, "fontSize": 8, "color": "#3b8a3b", "text": "1.16807"},
              "encoding": {"x": {"datum": {"year":2017,"month":9,"date":22,"hours":20,"utc":true}, "type": "temporal"}, "y": {"datum": 0, "type": "ordinal", "axis": null}}
            },
            {
              "data": {"name": "leg"},
              "mark": {"type": "text", "align": "left", "baseline": "middle", "dx": 5, "fontSize": 6.3},
              "encoding": {
                "x": {"datum": {"year":2017,"month":9,"date":22,"hours":20,"utc":true}, "type": "temporal"},
                "y": {"field": "r", "type": "ordinal", "axis": null},
                "text": {"field": "n", "type": "nominal"},
                "color": {"condition": {"test": "datum.s == 'ichi'", "value": "#c4c4c4"}, "value": "#666666"}
              }
            },
            {
              "data": {"name": "leg"},
              "transform": [{"filter": "datum.s != 'ichi'"}],
              "mark": {"type": "text", "align": "left", "baseline": "middle", "dx": 61, "fontSize": 7, "font": "DejaVu Sans", "color": "#d8d8d8", "text": "■ ■ ■ ■"},
              "encoding": {
                "x": {"datum": {"year":2017,"month":9,"date":22,"hours":20,"utc":true}, "type": "temporal"},
                "y": {"field": "r", "type": "ordinal", "axis": null}
              }
            },
            {
              "data": {"name": "leg"},
              "transform": [{"filter": "datum.s == 'ichi'"}],
              "mark": {"type": "text", "align": "left", "baseline": "middle", "dx": 86, "fontSize": 7, "font": "DejaVu Sans", "color": "#3d8ee8", "text": "■"},
              "encoding": {
                "x": {"datum": {"year":2017,"month":9,"date":22,"hours":20,"utc":true}, "type": "temporal"},
                "y": {"field": "r", "type": "ordinal", "axis": null}
              }
            },
            {
              "data": {"name": "leg"},
              "transform": [{"filter": "datum.s == 'ichi'"}],
              "mark": {"type": "text", "align": "left", "baseline": "middle", "dx": 95, "fontSize": 7, "font": "DejaVu Sans", "color": "#d8d8d8", "text": "■ ■ ■ ■"},
              "encoding": {
                "x": {"datum": {"year":2017,"month":9,"date":22,"hours":20,"utc":true}, "type": "temporal"},
                "y": {"field": "r", "type": "ordinal", "axis": null}
              }
            },
            {
              "data": {"name": "leg"},
              "mark": {"type": "text", "align": "left", "baseline": "middle", "dx": 100, "fontSize": 6.5},
              "encoding": {
                "x": {"datum": {"year":2017,"month":9,"date":22,"hours":20,"utc":true}, "type": "temporal"},
                "y": {"field": "r", "type": "ordinal", "axis": null},
                "text": {"field": "v", "type": "nominal"},
                "color": {"condition": {"test": "datum.s == 'e34' || datum.s == 'm100'", "value": "#ff2a2a"}, "value": "#3d5fc4"}
              }
            }
          ]
        }
      ],
      "resolve": {"scale": {"y": "independent"}}
    },
    {
      "width": 682,
      "height": 122,
      "layer": [
        {
          "layer": [
            {
              "data": {"values": [{"a": 100, "b": -100}]},
              "mark": {"type": "rect", "color": "#ece3d1"},
              "encoding": {
                "y": {"field": "a", "type": "quantitative", "scale": {"domain": [-358, 297], "nice": false, "zero": false},
                  "axis": {"orient": "right", "title": null, "format": ".4f", "grid": true, "labelFontSize": 6.9, "values": [-200, 0, 200]}},
                "y2": {"field": "b"}
              }
            },
            {
              "data": {"values": [{"v": 100}, {"v": -100}]},
              "mark": {"type": "rule", "color": "#b3b3b3", "strokeWidth": 1, "strokeDash": [3, 2]},
              "encoding": {"y": {"field": "v", "type": "quantitative"}}
            },
            {
              "data": {"name": "bars"},
              "mark": {"type": "rule", "color": "#3030ff", "strokeWidth": 0.5, "opacity": 0.9},
              "encoding": {
                "x": {"field": "d", "type": "temporal",
                  "scale": {"type": "utc", "domain": [{"year":2017,"month":9,"date":22,"hours":20,"utc":true},{"year":2019,"month":1,"date":12,"hours":21,"utc":true}]},
                  "axis": {"orient": "bottom", "title": null, "grid": true, "domain": false, "labelPadding": 1,
                    "values": [{"year":2017,"month":11,"date":1,"utc":true},{"year":2018,"month":1,"date":1,"utc":true},{"year":2018,"month":3,"date":1,"utc":true},{"year":2018,"month":5,"date":1,"utc":true},{"year":2018,"month":7,"date":1,"utc":true},{"year":2018,"month":9,"date":1,"utc":true},{"year":2018,"month":11,"date":1,"utc":true},{"year":2019,"month":1,"date":1,"utc":true}],
                    "labelExpr": "utcmonth(datum.value) == 0 ? utcFormat(datum.value, '%Y') : utcFormat(datum.value, '%b')",
                    "labelFontWeight": {"condition": {"test": "utcmonth(datum.value) == 0", "value": "bold"}, "value": "normal"},
                    "labelColor": {"condition": {"test": "utcmonth(datum.value) == 0", "value": "#333333"}, "value": "#777777"}}},
                "y": {"field": "cci", "type": "quantitative"},
                "y2": {"datum": 0}
              }
            },
            {
              "data": {"name": "bars"},
              "mark": {"type": "line", "color": "#1a1aff", "strokeWidth": 1.3},
              "encoding": {
                "x": {"field": "d", "type": "temporal"},
                "y": {"field": "cci", "type": "quantitative"}
              }
            }
          ]
        },
        {
          "layer": [
            {
              "data": {"name": "legc"},
              "mark": {"type": "text", "align": "left", "baseline": "middle", "dx": 5, "fontSize": 6.3, "color": "#666666"},
              "encoding": {
                "x": {"datum": {"year":2017,"month":9,"date":22,"hours":20,"utc":true}, "type": "temporal"},
                "y": {"field": "r", "type": "ordinal", "scale": {"type": "point", "padding": 0, "domain": [0, 1], "range": [10, 21]}, "axis": null},
                "text": {"field": "n", "type": "nominal"}
              }
            },
            {
              "data": {"name": "legc"},
              "mark": {"type": "text", "align": "left", "baseline": "middle", "dx": 59, "fontSize": 7, "font": "DejaVu Sans", "color": "#d8d8d8", "text": "■ ■ ■ ■"},
              "encoding": {
                "x": {"datum": {"year":2017,"month":9,"date":22,"hours":20,"utc":true}, "type": "temporal"},
                "y": {"field": "r", "type": "ordinal", "axis": null}
              }
            },
            {
              "data": {"name": "legc"},
              "mark": {"type": "text", "align": "left", "baseline": "middle", "dx": 97, "fontSize": 6.5, "color": "#4b4bff"},
              "encoding": {
                "x": {"datum": {"year":2017,"month":9,"date":22,"hours":20,"utc":true}, "type": "temporal"},
                "y": {"field": "r", "type": "ordinal", "axis": null},
                "text": {"field": "v", "type": "nominal"}
              }
            }
          ]
        }
      ],
      "resolve": {"scale": {"y": "independent"}}
    }
  ]
}
